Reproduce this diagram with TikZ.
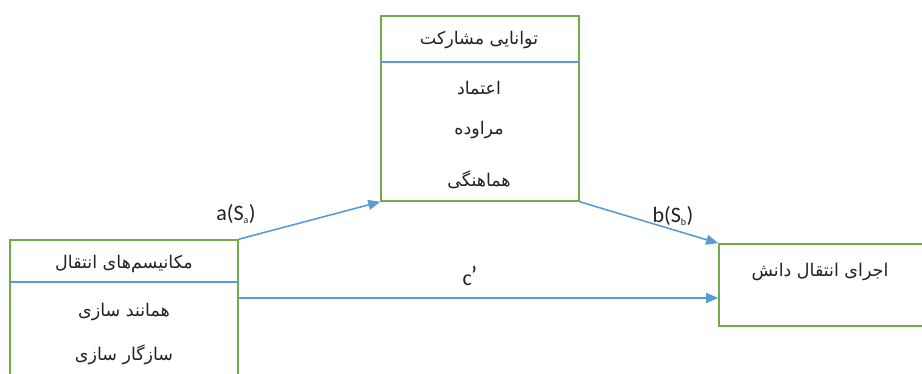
\documentclass[tikz,border=0pt]{standalone}
\usepackage{fontspec}
\setmainfont{Carlito}
\newfontfamily\arabicfont[Script=Arabic]{DejaVu Sans}
\TeXXeTstate=1
\usetikzlibrary{arrows.meta}
\definecolor{boxgreen}{HTML}{70AD47}
\definecolor{lineblue}{HTML}{5B9BD5}
\definecolor{txt}{HTML}{222222}
\tikzset{
  box/.style={draw=boxgreen, line width=1.6pt, fill=white, inner sep=0pt},
  divider/.style={draw=lineblue, line width=1.6pt},
  conn/.style={draw=lineblue, line width=1.6pt, -{Triangle[length=12pt,width=10pt]}},
  fa/.style={text=txt, font=\arabicfont\fontsize{17.5}{20}\selectfont, inner sep=0pt},
  lbl/.style={text=txt, font=\fontsize{22}{24}\selectfont, inner sep=0pt}
}
\begin{document}
\begin{tikzpicture}[x=1pt,y=-1pt]
\useasboundingbox (0,0) rectangle (922,374);
\clip (0,0) rectangle (922,374);
% boxes
\node[box, minimum width=198pt, minimum height=185pt] (top) at (480,108.5) {};
\node[box, minimum width=228pt, minimum height=160pt] (left) at (124,320) {};
\node[box, minimum width=221pt, minimum height=82pt] (right) at (829.5,285) {};
% dividers
\coordinate (td) at (0,62);
\coordinate (ld) at (0,282);
\draw[divider] (top.west |- td) -- (top.east |- td);
\draw[divider] (left.west |- ld) -- (left.east |- ld);
% texts
\node[fa] (t0) at (479,40) {\beginR توانایی مشارکت\endR};
\node[fa] (t1) at (479,88) {\beginR اعتماد\endR};
\node[fa] (t2) at (479,130) {\beginR مراوده\endR};
\node[fa] (t3) at (479,180) {\beginR هماهنگی\endR};
\node[fa] (l0) at (124,264) {\beginR مکانیسم‌های انتقال\endR};
\node[fa] (l1) at (124,312) {\beginR همانند سازی\endR};
\node[fa] (l2) at (124,355) {\beginR سازگار سازی\endR};
\node[fa] (r0) at (820,272) {\beginR اجرای انتقال دانش\endR};
% connectors
\coordinate (cy) at (0,298);
\draw[conn] (left.north east) -- (top.south west);
\draw[conn] (top.south east) -- (right.north west);
\draw[conn] (left.east |- cy) -- (right.west |- cy);
% labels
\node[lbl] (la) at (236,214) {a(S\textsubscript{\fontsize{10}{11}\selectfont a})};
\node[lbl] (lb) at (673,216) {b(S\textsubscript{\fontsize{10}{11}\selectfont b})};
\node[lbl] (lc) at (470,276) {c\kern-1pt\raisebox{1pt}{\fontsize{26}{28}\selectfont ’}};
\end{tikzpicture}
\end{document}
